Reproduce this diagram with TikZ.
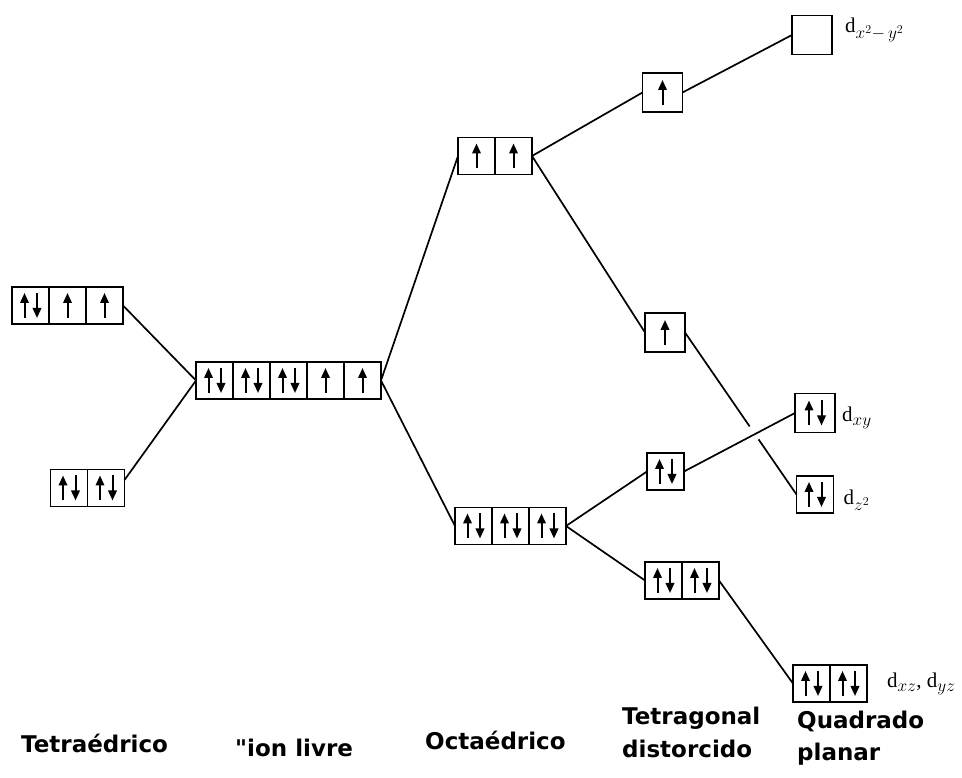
\documentclass[tikz,border=0pt]{standalone}
\usepackage{fontspec}
\setmainfont{Liberation Serif}
\newfontfamily\labelfont{DejaVu Sans}
\DeclareMathSizes{21}{21}{18}{13}
\usepackage{tikz}
\usetikzlibrary{arrows.meta,positioning,calc}

\begin{document}
\begin{tikzpicture}[x=1pt, y=1pt,
    cell/.style={draw, line width=1.7pt, minimum width=37pt, minimum height=37pt, inner sep=0pt, outer sep=0pt},
    big/.style={cell, minimum width=40pt, minimum height=39pt},
    spin/.style={line width=2pt, -{Triangle[length=10pt, width=8.5pt]}},
    pr/.style={path picture={
        \draw[spin] ([xshift=-6pt, yshift=-12.5pt]path picture bounding box.center) -- ++(0pt,25pt);
        \draw[spin] ([xshift=6.5pt, yshift=12.5pt]path picture bounding box.center) -- ++(0pt,-25pt);}},
    up/.style={path picture={
        \draw[spin] ([yshift=-12.5pt]path picture bounding box.center) -- ++(0pt,25pt);}},
    link/.style={line width=1.7pt},
    lbl/.style={font=\labelfont\bfseries\fontsize{23}{28}\selectfont, anchor=base west, inner sep=0pt},
    dlbl/.style={font=\fontsize{21}{24}\selectfont, anchor=base west, inner sep=0pt},
]
    \useasboundingbox (0,0) rectangle (962,778);

    % Tetraedrico
    \node[cell, pr] (te1) at (30.5,472.5) {};
    \node[cell, up, right=0pt of te1] (te2) {};
    \node[cell, up, right=0pt of te2] (te3) {};
    \node[cell, pr] (tw1) at (69,290) {};
    \node[cell, pr, right=0pt of tw1] (tw2) {};

    % Ion livre
    \node[cell, pr] (fi1) at (214.5,397.5) {};
    \node[cell, pr, right=0pt of fi1] (fi2) {};
    \node[cell, pr, right=0pt of fi2] (fi3) {};
    \node[cell, up, right=0pt of fi3] (fi4) {};
    \node[cell, up, right=0pt of fi4] (fi5) {};

    % Octaedrico
    \node[cell, up] (ot1) at (476.5,622) {};
    \node[cell, up, right=0pt of ot1] (ot2) {};
    \node[cell, pr] (ob1) at (473.5,252) {};
    \node[cell, pr, right=0pt of ob1] (ob2) {};
    \node[cell, pr, right=0pt of ob2] (ob3) {};

    % Tetragonal distorcido
    \node[big, up] (ta) at (662.5,685.5) {};
    \node[big, up] (tb) at (665,445.5) {};
    \node[cell, pr] (tc) at (665.5,306.5) {};
    \node[cell, pr] (td1) at (663.5,197.5) {};
    \node[cell, pr, right=0pt of td1] (td2) {};

    % Quadrado planar
    \node[big] (dx) at (812,743) {};
    \node[big, pr] (dxy) at (815,365) {};
    \node[cell, pr] (dz) at (815,283.5) {};
    \node[cell, pr] (dxz1) at (811.5,94.5) {};
    \node[cell, pr, right=0pt of dxz1] (dxz2) {};

    % Connectors
    \draw[link] (te3.east) -- (fi1.west);
    \draw[link] ([yshift=8pt]tw2.east) -- (fi1.west);
    \draw[link] (fi5.east) -- (ot1.west);
    \draw[link] (fi5.east) -- (ob1.west);
    \draw[link] (ot2.east) -- (ta.west);
    \draw[link] (ot2.east) -- (tb.west);
    \draw[link] (ob3.east) -- (tc.west);
    \draw[link] (ob3.east) -- (td1.west);
    \draw[link] (ta.east) -- (dx.west);
    \draw[link] (tc.east) -- (dxy.west);
    \draw[link] (td2.east) -- (dxz1.west);
    \coordinate (gapa) at ($(tb.east)!0.58!(dz.west)$);
    \coordinate (gapb) at ($(tb.east)!0.66!(dz.west)$);
    \draw[link] (tb.east) -- (gapa);
    \draw[link] (gapb) -- (dz.west);

    % Orbital labels
    \node[dlbl] (ldx) at ($(dx.east)+(13pt,2pt)$) {d$_{x^2-\,y^2}$};
    \node[dlbl] (ldxy) at ($(dxy.east)+(7pt,-9pt)$) {d$_{xy}$};
    \node[dlbl] (ldz) at ($(dz.east)+(10pt,-10pt)$) {d$_{z^2}$};
    \node[dlbl] (ldxz) at ($(dxz2.east)+(20pt,-4.5pt)$) {d$_{xz}$, d$_{yz}$};

    % Geometry labels
    \node[lbl] (lte) at (21,25) {Tetraédrico};
    \node[lbl] (lfi) at (235,21) {\symbol{34}ion livre};
    \node[lbl] (lot) at (425,28) {Octaédrico};
    \node[lbl] (ltg) at (622,53) {Tetragonal};
    \node[lbl] (ltg2) at (622,20) {distorcido};
    \node[lbl] (lqp) at (797,49) {Quadrado};
    \node[lbl] (lqp2) at (797,17) {planar};
\end{tikzpicture}
\end{document}
